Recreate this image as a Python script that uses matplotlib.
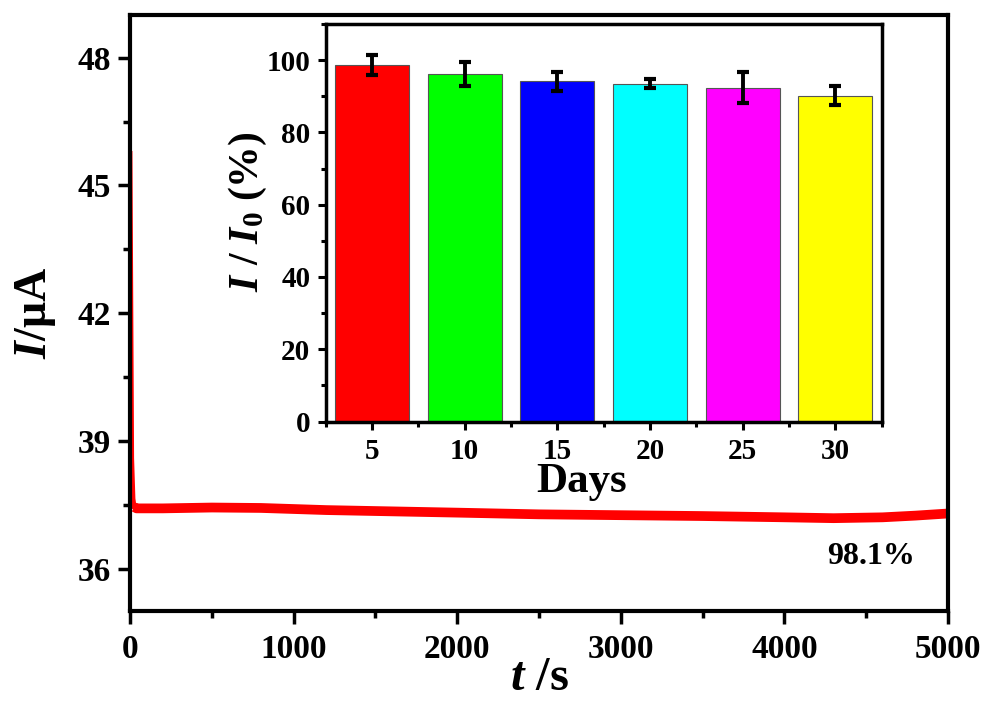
import matplotlib
matplotlib.use("Agg")
import matplotlib.pyplot as plt
from matplotlib.ticker import MultipleLocator

plt.rcParams['font.family'] = ['Liberation Serif', 'DejaVu Serif']
plt.rcParams['font.weight'] = 'bold'
plt.rcParams['mathtext.fontset'] = 'custom'
plt.rcParams['mathtext.it'] = 'Liberation Serif:italic:bold'
plt.rcParams['mathtext.rm'] = 'Liberation Serif:bold'
plt.rcParams['mathtext.bf'] = 'Liberation Serif:bold'

# Amperometric current over time
time_s = [0, 10, 18, 25, 40, 200, 500, 800, 1200, 1600, 2000, 2500,
          3000, 3500, 4000, 4300, 4600, 4800, 5000]
current_uA = [45.75, 38.6, 37.65, 37.45, 37.42, 37.42, 37.44, 37.43, 37.38,
              37.35, 37.32, 37.28, 37.26, 37.24, 37.21, 37.19, 37.21,
              37.25, 37.30]
retention_text = "98.1%"

# Long-term stability (inset)
days = [5, 10, 15, 20, 25, 30]
ratio_pct = [98.6, 96.2, 94.1, 93.5, 92.4, 90.2]
ratio_err = [2.7, 3.4, 2.6, 1.3, 4.4, 2.7]
bar_colors = ['#ff0000', '#00ff00', '#0000ff', '#00ffff', '#ff00ff', '#ffff00']

fig = plt.figure(figsize=(9.88, 7.01), dpi=100)

ax = fig.add_axes([0.1316, 0.1277, 0.828, 0.8509])
ax.plot(time_s, current_uA, color='#ff0000', lw=3.5, solid_joinstyle='miter')
plateau = [i for i, t in enumerate(time_s) if t >= 25]
ax.plot([time_s[i] for i in plateau], [current_uA[i] for i in plateau],
        color='#ff0000', lw=7, solid_capstyle='butt')
ax.set_xlim(0, 5000)
ax.set_ylim(35, 49)
ax.xaxis.set_major_locator(MultipleLocator(1000))
ax.xaxis.set_minor_locator(MultipleLocator(500))
ax.yaxis.set_major_locator(MultipleLocator(3))
ax.yaxis.set_minor_locator(MultipleLocator(1.5))
for s in ax.spines.values():
    s.set_linewidth(3)
ax.tick_params(which='major', direction='out', length=9, width=2.5,
               labelsize=24)
ax.tick_params(axis='x', which='major', pad=7)
ax.tick_params(axis='y', which='major', pad=5)
ax.tick_params(which='minor', direction='out', length=5, width=2.5)
for lbl in ax.get_xticklabels() + ax.get_yticklabels():
    lbl.set_fontweight('bold')
ax.set_xlabel(r'$t$ /s', fontsize=35, fontweight='bold', labelpad=-6)
ax.set_ylabel(r'$I$/μA', fontsize=33, fontweight='bold', va='center')
ax.yaxis.set_label_coords(-0.116, 0.5)
ax.text(4530, 36.3, retention_text, fontsize=23, fontweight='bold',
        ha='center', va='center')

ins = fig.add_axes([0.3295, 0.3987, 0.5629, 0.5671])
ins.bar(days, ratio_pct, width=4, color=bar_colors, edgecolor='#555555',
        linewidth=0.8, yerr=ratio_err, capsize=4,
        error_kw=dict(elinewidth=2.8, capthick=3, ecolor='black'))
ins.set_xlim(2.5, 32.5)
ins.set_ylim(0, 110)
ins.set_xticks(days)
ins.xaxis.set_minor_locator(MultipleLocator(2.5))
ins.yaxis.set_major_locator(MultipleLocator(20))
ins.yaxis.set_minor_locator(MultipleLocator(10))
for s in ins.spines.values():
    s.set_linewidth(2.5)
ins.tick_params(which='major', direction='out', length=6, width=2.2,
                labelsize=21)
ins.tick_params(axis='x', which='major', pad=6)
ins.tick_params(axis='y', which='major', pad=5)
ins.tick_params(which='minor', direction='out', length=3.5, width=2.2)
for lbl in ins.get_xticklabels() + ins.get_yticklabels():
    lbl.set_fontweight('bold')
ins.set_xlabel('Days', fontsize=31, fontweight='bold', va='center')
ins.xaxis.set_label_coords(0.4595, -0.152)
ins.set_ylabel(r'$I$ / $I_0$ (%)', fontsize=30, fontweight='bold', va='center')
ins.yaxis.set_label_coords(-0.139, 0.527)

fig.savefig('out.png', dpi=100)
